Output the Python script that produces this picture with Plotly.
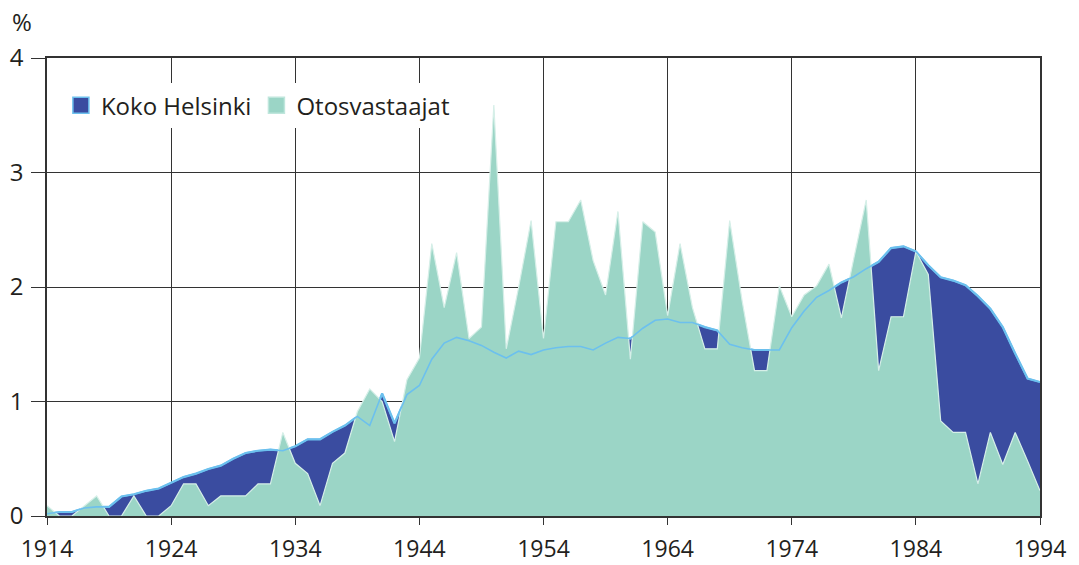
import plotly.graph_objects as go

years = list(range(1914, 1995))

koko_helsinki = [
    0.02, 0.035, 0.035, 0.07, 0.08, 0.08, 0.17, 0.19, 0.22, 0.24,
    0.29, 0.34, 0.37, 0.41, 0.44, 0.50, 0.55, 0.57, 0.58, 0.57,
    0.61, 0.67, 0.67, 0.735, 0.79, 0.87, 0.79, 1.07, 0.81, 1.06,
    1.14, 1.37, 1.51, 1.56, 1.53, 1.49, 1.43, 1.38, 1.44, 1.41,
    1.45, 1.47, 1.48, 1.48, 1.45, 1.51, 1.56, 1.55, 1.64, 1.71,
    1.72, 1.69, 1.69, 1.65, 1.62, 1.50, 1.47, 1.45, 1.45, 1.45,
    1.645, 1.79, 1.91, 1.97, 2.04, 2.09, 2.16, 2.22, 2.34, 2.355,
    2.31, 2.19, 2.085, 2.056, 2.015, 1.92, 1.81, 1.65, 1.42, 1.20,
    1.17,
]

otosvastaajat = [
    0.09, 0.0, 0.0, 0.09, 0.175, 0.0, 0.0, 0.175, 0.0, 0.0,
    0.09, 0.28, 0.28, 0.09, 0.175, 0.175, 0.175, 0.28, 0.28, 0.73,
    0.46, 0.37, 0.09, 0.46, 0.55, 0.91, 1.11, 1.0, 0.65, 1.19,
    1.38, 2.38, 1.82, 2.30, 1.55, 1.65, 3.59, 1.46, 2.0, 2.58,
    1.55, 2.57, 2.57, 2.76, 2.23, 1.93, 2.66, 1.37, 2.57, 2.48,
    1.75, 2.38, 1.82, 1.46, 1.46, 2.58, 1.88, 1.27, 1.27, 2.01,
    1.74, 1.93, 2.01, 2.20, 1.73, 2.25, 2.76, 1.27, 1.74, 1.74,
    2.31, 2.11, 0.83, 0.73, 0.73, 0.28, 0.73, 0.45, 0.73, 0.48,
    0.22,
]

series_names = ["Koko Helsinki", "Otosvastaajat"]
x_ticks = [1914, 1924, 1934, 1944, 1954, 1964, 1974, 1984, 1994]
y_ticks = [0, 1, 2, 3, 4]

DARK_BLUE = "#3a4ca0"
GREEN = "#9bd5c6"
LIGHT_BLUE = "#6cc0ee"
GRID = "#333333"
FONT = "Open Sans"
TXT = "#231f20"

fig = go.Figure()
fig.add_trace(go.Scatter(
    x=years, y=koko_helsinki, name=series_names[0], mode="lines",
    fill="tozeroy", fillcolor=DARK_BLUE, showlegend=False,
    line=dict(color=LIGHT_BLUE, width=2.2),
))
fig.add_trace(go.Scatter(
    x=years, y=otosvastaajat, name=series_names[1], mode="lines",
    fill="tozeroy", fillcolor=GREEN, showlegend=False,
    line=dict(color="#d6efe8", width=1.2),
))
fig.add_trace(go.Scatter(
    x=years, y=koko_helsinki, mode="lines", showlegend=False,
    line=dict(color=LIGHT_BLUE, width=1.6), hoverinfo="skip",
))
# legend entries (square swatches)
fig.add_trace(go.Scatter(
    x=[None], y=[None], name=series_names[0], mode="markers",
    marker=dict(symbol="square", size=19, color=DARK_BLUE,
                line=dict(color=LIGHT_BLUE, width=1.5)),
))
fig.add_trace(go.Scatter(
    x=[None], y=[None], name=series_names[1], mode="markers",
    marker=dict(symbol="square", size=19, color=GREEN,
                line=dict(color="#bfe6dc", width=1.5)),
))

fig.update_layout(
    width=1079, height=565,
    margin=dict(l=47, r=39, t=58, b=49, autoexpand=False),
    paper_bgcolor="white", plot_bgcolor="white",
    font=dict(family=FONT, size=24, color=TXT),
    showlegend=True,
    legend=dict(
        orientation="h", x=0.014, y=0.945, xanchor="left", yanchor="top",
        bgcolor="white", font=dict(size=24, color=TXT),
        itemwidth=30, tracegroupgap=0, borderwidth=0,
    ),
    annotations=[dict(
        text="%", xref="paper", yref="paper", x=-0.0375, y=1.079,
        xanchor="left", yanchor="middle", showarrow=False,
        font=dict(size=24, color=TXT),
    )],
)
fig.update_xaxes(
    range=[1914, 1994], tickvals=x_ticks, ticktext=[str(t) for t in x_ticks],
    showgrid=True, gridcolor=GRID, gridwidth=1.2,
    showline=True, linecolor=GRID, linewidth=1.5, mirror=True,
    ticks="outside", ticklen=7, tickcolor=GRID, tickwidth=1.2,
    zeroline=False, tickfont=dict(size=23, color=TXT), automargin=False,
    ticklabelstandoff=5,
)
fig.update_yaxes(
    range=[0, 4], tickvals=y_ticks,
    showgrid=True, gridcolor=GRID, gridwidth=1.2,
    showline=True, linecolor=GRID, linewidth=1.5, mirror=True,
    ticks="outside", ticklen=14, tickcolor=GRID, tickwidth=1.2,
    zeroline=False, tickfont=dict(size=24, color=TXT), automargin=False,
    ticklabelstandoff=3,
)

fig.write_html(
    "out.html",
    config={"displayModeBar": False},
    post_script="document.body.style.margin='0';document.body.style.padding='0';",
)
